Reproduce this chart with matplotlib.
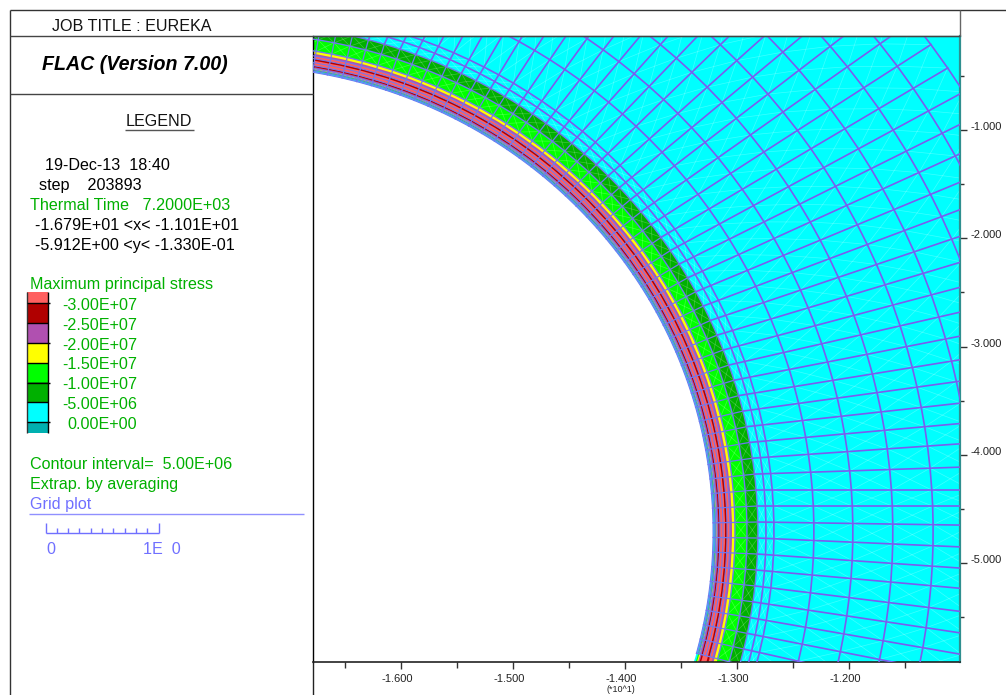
import numpy as np
import matplotlib
matplotlib.use("Agg")
import matplotlib.pyplot as plt
from matplotlib.lines import Line2D
from matplotlib.patches import Circle, Rectangle
from matplotlib.transforms import ScaledTranslation

plt.rcParams['font.family'] = ['Liberation Sans', 'DejaVu Sans']

W, H = 1006, 695

# ---- data -----------------------------------------------------------------
x_limits = (-16.79, -11.01)
y_limits = (-5.912, -0.133)
x_major = [-16, -15, -14, -13, -12]
x_minor = [-16.5, -15.5, -14.5, -13.5, -12.5, -11.5]
x_labels = ['-1.600', '-1.500', '-1.400', '-1.300', '-1.200']
y_major = [-1, -2, -3, -4, -5]
y_minor = [-0.5, -1.5, -2.5, -3.5, -4.5, -5.5]
y_labels = ['-1.000', '-2.000', '-3.000', '-4.000', '-5.000']

centre_x, centre_y = -17.52, -4.71

# radii of the contour bands, outermost first, and their colours
band_radii = [9.5, 4.705, 4.607, 4.50, 4.473, 4.455, 4.429, 4.411, 4.365, 4.352, 4.34, 4.33, 4.32, 4.304]
band_colors = ['#00ffff', '#00b000', '#00ff00', '#ffff00', '#b050b0', '#ff6060', '#b00000', '#ff6060',
               '#b00000', '#b050b0', '#ffff00', '#00ff00', '#00ffff', '#ffffff']

# radii of the mesh hoops, inner ring then transition then outer
ring_hoops = [4.304, 4.315, 4.328, 4.339, 4.366, 4.393, 4.429, 4.455, 4.50, 4.607, 4.705]
outer_hoops = [4.777, 4.848, 5.205, 5.553, 5.91, 6.27, 6.625, 6.98, 7.34, 7.70]

# each mesh spoke: polar angle where it leaves the ring, direction beyond the ring (degrees)
spoke_theta = [-15.1, -13.3, -11.5, -9.7, -7.9, -6.1, -4.3, -2.5, -0.7, 1.1, 2.9, 4.7, 6.5, 8.3, 10.1, 11.9,
               13.7, 15.5, 17.3, 19.1, 20.9, 22.7, 24.5, 26.3, 28.1, 29.9, 31.7, 33.5, 35.3, 37.1, 38.9,
               40.7, 42.5, 44.3, 46.1, 47.9, 49.7, 51.5, 53.3, 55.1, 56.9, 58.7, 60.5, 62.3, 64.1, 65.9,
               67.7, 69.5, 71.3, 73.1, 74.9, 76.7, 78.5, 80.3, 82.1]
spoke_phi = [-14.5, -13.0, -11.5, -10.2, -8.8, -7.3, -5.3, -4.1, -2.6, -0.9, 0.0, 0.0, 2.0, 4.1, 5.3, 6.5,
             8.1, 9.5, 11.4, 13.3, 15.3, 17.2, 19.2, 21.2, 23.2, 25.2, 27.2, 29.2, 31.4, 33.6, 36.0,
             38.4, 40.6, 42.8, 45.0, 47.0, 49.0, 51.0, 53.0, 55.0, 56.5, 58.0, 59.5, 60.5, 61.5, 62.5,
             63.0, 64.0, 65.0, 66.0, 67.0, 68.0, 69.0, 70.0, 71.0]

legend_values = ['-3.00E+07', '-2.50E+07', '-2.00E+07', '-1.50E+07', '-1.00E+07', '-5.00E+06', ' 0.00E+00']
legend_colors = ['#ff6060', '#b00000', '#b050b0', '#ffff00', '#00ff00', '#00b000', '#00ffff', '#00b0b0']
legend_edges = [292, 303, 322.5, 342.5, 362.5, 382.5, 402.5, 422, 433]
legend_baselines = [310, 330, 350, 369, 389, 409, 429]

GREEN = '#00b000'
BLUE = '#7070ff'
MESH = '#7a5cf0'
MESH_IN = '#6f78f0'
TXT = 11.6

# ---- helpers --------------------------------------------------------------
fig = plt.figure(figsize=(W / 100, H / 100), dpi=100, facecolor='white')


def fx(x):
    return x / W


def fy(y):
    return 1 - y / H


def seg(x0, y0, x1, y1, color='#333333', lw=1.0):
    fig.add_artist(Line2D([fx(x0), fx(x1)], [fy(y0), fy(y1)], color=color, lw=lw, transform=fig.transFigure,
                          solid_capstyle='butt'))


def label(x, y, s, color='black', size=TXT, **kw):
    fig.text(fx(x), fy(y), s, color=color, fontsize=size, va='baseline', ha=kw.pop('ha', 'left'), **kw)


# ---- plot area ------------------------------------------------------------
L, R, T, B = 313, 960, 36, 662
ax = fig.add_axes([fx(L), fy(B), (R - L) / W, (B - T) / H])
ax.set_xlim(*x_limits)
ax.set_ylim(*y_limits)
ax.set_facecolor('white')

for r, c in zip(band_radii, band_colors):
    ax.add_patch(Circle((centre_x, centre_y), r, facecolor=c, edgecolor='none', zorder=1))

th = np.radians(spoke_theta)
ph = np.radians(spoke_phi)
ring_out = ring_hoops[-1]

rows = []
for r in ring_hoops:
    rows.append((centre_x + r * np.cos(th), centre_y + r * np.sin(th)))
px0 = ring_out * np.cos(th)
py0 = ring_out * np.sin(th)
dx, dy = np.cos(ph), np.sin(ph)
for r in outer_hoops:
    pd = px0 * dx + py0 * dy
    t = -pd + np.sqrt(pd ** 2 - (ring_out ** 2 - r ** 2))
    rows.append((centre_x + px0 + t * dx, centre_y + py0 + t * dy))
X = np.array([a for a, _ in rows])
Y = np.array([b for _, b in rows])
n_ring = len(ring_hoops)

# pale triangulation lines of the contour fill
for i in range(n_ring - 3, X.shape[0] - 1):
    for j in range(X.shape[1] - 1):
        ax.plot([X[i, j], X[i + 1, j + 1]], [Y[i, j], Y[i + 1, j + 1]], color='white', alpha=0.25, lw=0.5, zorder=2)
        ax.plot([X[i + 1, j], X[i, j + 1]], [Y[i + 1, j], Y[i, j + 1]], color='white', alpha=0.25, lw=0.5, zorder=2)

# hoops and spokes
for i in range(X.shape[0]):
    if i < n_ring - 3:
        c, w = MESH_IN, 0.75
    elif i < n_ring:
        c, w = MESH_IN, 1.0
    else:
        c, w = MESH, 1.2
    ax.plot(X[i], Y[i], color=c, lw=w, zorder=3)
for j in range(X.shape[1]):
    ax.plot(X[:n_ring, j], Y[:n_ring, j], color=MESH_IN, lw=0.9, zorder=3)
    ax.plot(X[n_ring - 1:, j], Y[n_ring - 1:, j], color=MESH, lw=1.2, zorder=3)

ax.spines['left'].set_color('black')
ax.spines['left'].set_linewidth(1.0)
ax.spines['top'].set_color('#2f8f8f')
ax.spines['top'].set_linewidth(1.0)
ax.spines['bottom'].set_color('#222222')
ax.spines['bottom'].set_linewidth(1.2)
ax.spines['right'].set_color('#2f8f8f')
ax.spines['right'].set_linewidth(1.6)

ax.set_xticks(x_major)
ax.set_xticklabels(x_labels)
ax.set_xticks(x_minor, minor=True)
ax.yaxis.tick_right()
ax.set_yticks(y_major)
ax.set_yticklabels(y_labels)
ax.set_yticks(y_minor, minor=True)
ax.tick_params(axis='x', which='major', length=5, width=1.0, color='#333333', labelsize=8.0,
               labelcolor='#222222', pad=3.5)
ax.tick_params(axis='x', which='minor', length=4.3, width=1.0, color='#333333')
ax.tick_params(axis='y', which='major', length=5, width=1.0, color='#333333', labelsize=8.0,
               labelcolor='#222222', pad=2.3)
ax.tick_params(axis='y', which='minor', length=3, width=1.0, color='#333333')
for t in ax.get_xticklabels():
    t.set_transform(t.get_transform() + ScaledTranslation(-4 / 100, 0, fig.dpi_scale_trans))
for t in ax.get_yticklabels():
    t.set_transform(t.get_transform() + ScaledTranslation(0, 4 / 100, fig.dpi_scale_trans))

label(621, 692.5, '(*10^1)', color='#222222', size=6.5, ha='center')

# ---- frame ----------------------------------------------------------------
seg(10, 10, W, 10)
seg(10, 10, 10, H)
seg(960, 10, 960, 36, color='#666666')
seg(10, 36, 960, 36, color='#444444')
seg(10, 94, 313, 94, color='#444444')
seg(313, 662, 313, H, color='#222222')

# ---- left panel text ------------------------------------------------------
label(52, 31, 'JOB TITLE : EUREKA', color='#111111')
label(42, 70.5, 'FLAC (Version 7.00)', size=14.1, fontweight='bold', fontstyle='italic')
label(125.5, 126, 'LEGEND', color='#111111')
seg(125, 130, 194, 130, color='#555555', lw=1.0)
label(45, 170, '19-Dec-13  18:40')
label(39, 190, 'step    203893')
label(30, 210, 'Thermal Time   7.2000E+03', color=GREEN)
label(35, 230.5, '-1.679E+01 <x< -1.101E+01')
label(35, 250, '-5.912E+00 <y< -1.330E-01')
label(30, 289, 'Maximum principal stress', color=GREEN)

for k, c in enumerate(legend_colors):
    y0, y1 = legend_edges[k], legend_edges[k + 1]
    fig.add_artist(Rectangle((fx(27), fy(y1)), 21 / W, (y1 - y0) / H, facecolor=c, edgecolor='none',
                             transform=fig.transFigure))
seg(27, 292, 27, 433, color='#333333')
seg(48, 292, 48, 433, color='black')
for k, y in enumerate(legend_edges[1:-1]):
    seg(27, y, 50 if k % 2 == 0 else 48, y, color='black')
for s, y in zip(legend_values, legend_baselines):
    label(137, y, s.strip(), color=GREEN, ha='right')

label(30, 469, 'Contour interval=  5.00E+06', color=GREEN)
label(30, 489, 'Extrap. by averaging', color=GREEN)
label(30, 509, 'Grid plot', color=BLUE)
seg(29, 514, 304, 514, color='#9090ff')

# length scale of the grid plot
seg(45.5, 533, 158.5, 533, color=BLUE)
seg(45.5, 523, 45.5, 533, color=BLUE)
seg(158.5, 523, 158.5, 533, color=BLUE)
for k in range(1, 10):
    xt = 45.5 + 11.3 * k
    seg(xt, 528, xt, 533, color=BLUE)
label(46, 554, '0', color=BLUE)
label(143, 554, '1E  0', color=BLUE)

fig.savefig('out.png', dpi=100, facecolor='white')
